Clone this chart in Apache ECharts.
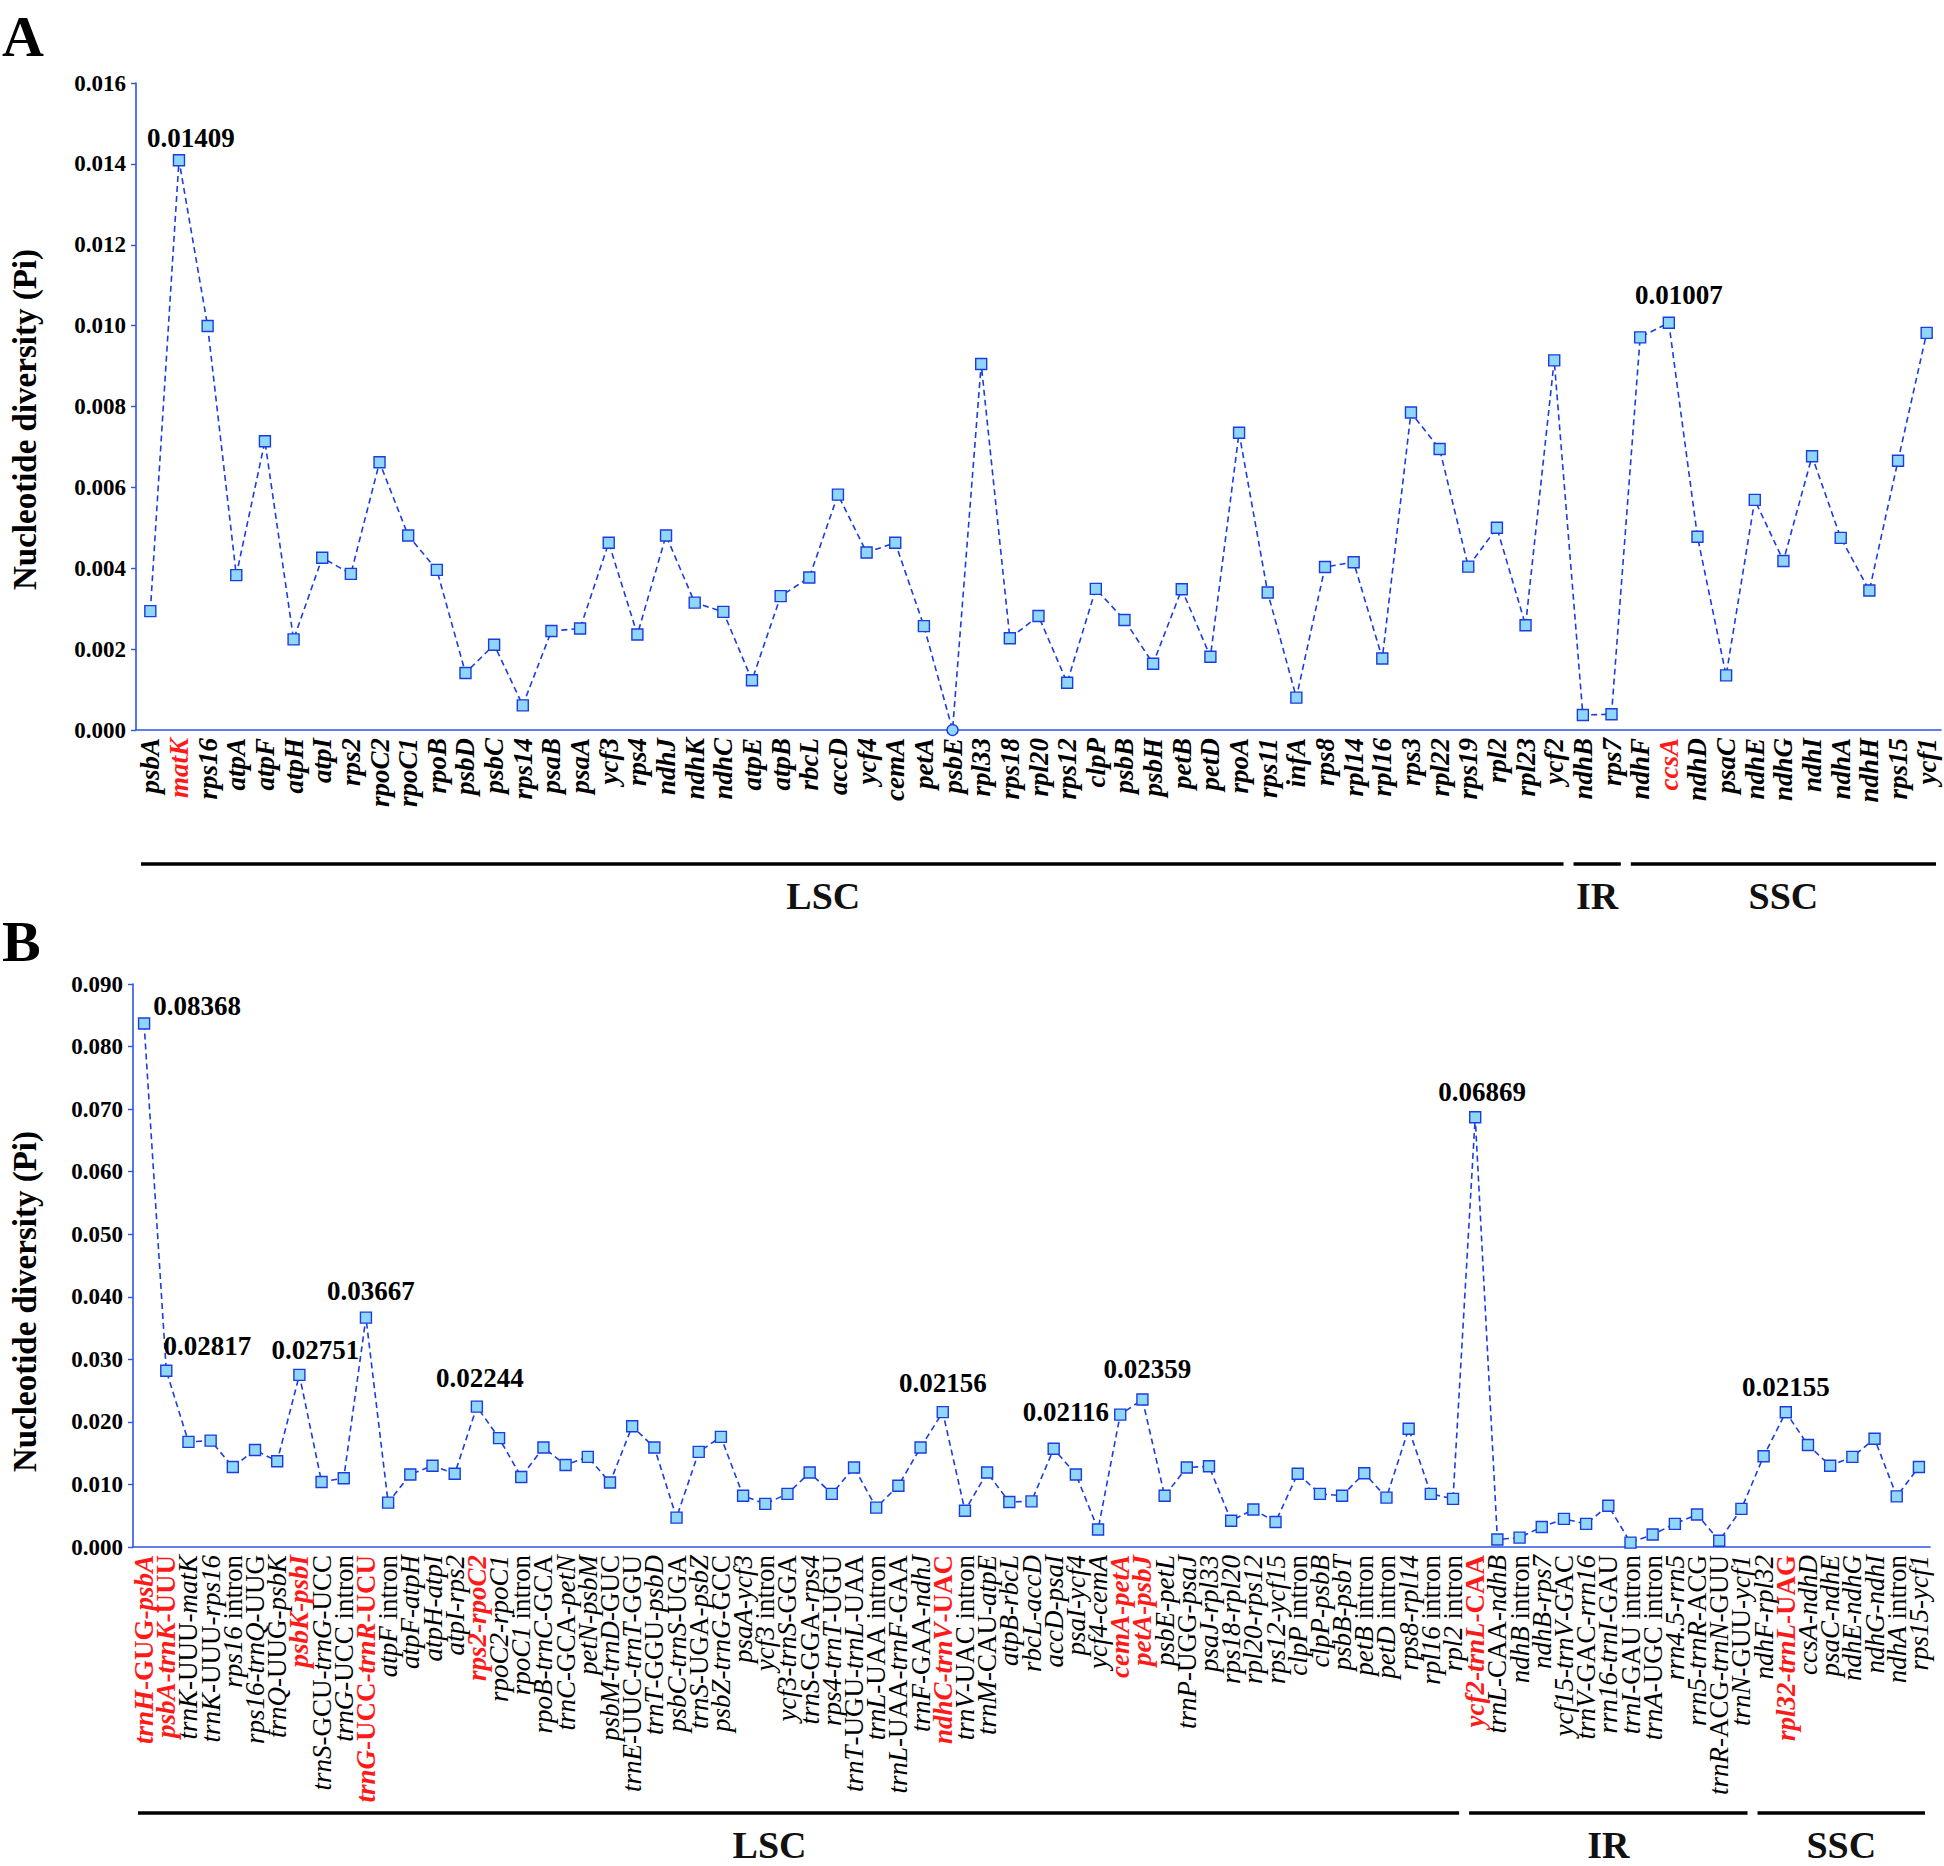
<!DOCTYPE html>
<html><head><meta charset="utf-8">
<script src="https://cdn.jsdelivr.net/npm/echarts/dist/echarts.min.js"></script>
<style>html,body{margin:0;padding:0;background:#fff}#c{width:1944px;height:1866px}</style>
</head><body><div id="c"></div>
<script>
// ---------- DATA ----------
const categoriesA = ['psbA','matK','rps16','atpA','atpF','atpH','atpI','rps2','rpoC2','rpoC1','rpoB','psbD','psbC','rps14','psaB','psaA','ycf3','rps4','ndhJ','ndhK','ndhC','atpE','atpB','rbcL','accD','ycf4','cemA','petA','psbE','rpl33','rps18','rpl20','rps12','clpP','psbB','psbH','petB','petD','rpoA','rps11','infA','rps8','rpl14','rpl16','rps3','rpl22','rps19','rpl2','rpl23','ycf2','ndhB','rps7','ndhF','ccsA','ndhD','psaC','ndhE','ndhG','ndhI','ndhA','ndhH','rps15','ycf1'];
const piA = [0.00294,0.01409,0.00999,0.00383,0.00714,0.00224,0.00426,0.00386,0.00662,0.00481,0.00396,0.00141,0.00211,0.00061,0.00245,0.00251,0.00463,0.00236,0.00481,0.00315,0.00292,0.00123,0.00331,0.00377,0.00582,0.00439,0.00463,0.00257,0.00000,0.00905,0.00227,0.00282,0.00117,0.00349,0.00272,0.00164,0.00348,0.00181,0.00735,0.00340,0.00080,0.00403,0.00415,0.00177,0.00785,0.00695,0.00404,0.00500,0.00259,0.00914,0.00037,0.00039,0.00971,0.01007,0.00478,0.00135,0.00569,0.00418,0.00677,0.00475,0.00345,0.00666,0.00982];
const highlightA = ['matK','ccsA'];
const labeledA = ['matK','ccsA'];
const yTicksA = [0,0.002,0.004,0.006,0.008,0.010,0.012,0.014,0.016];
const regionsA = [['LSC','psbA','ycf2'],['IR','ndhB','rps7'],['SSC','ndhF','ycf1']];

const categoriesB = ['trnH-GUG-psbA','psbA-trnK-UUU','trnK-UUU-matK','trnK-UUU-rps16','rps16 intron','rps16-trnQ-UUG','trnQ-UUG-psbK','psbK-psbI','trnS-GCU-trnG-UCC','trnG-UCC intron','trnG-UCC-trnR-UCU','atpF intron','atpF-atpH','atpH-atpI','atpI-rps2','rps2-rpoC2','rpoC2-rpoC1','rpoC1 intron','rpoB-trnC-GCA','trnC-GCA-petN','petN-psbM','psbM-trnD-GUC','trnE-UUC-trnT-GGU','trnT-GGU-psbD','psbC-trnS-UGA','trnS-UGA-psbZ','psbZ-trnG-GCC','psaA-ycf3','ycf3 intron','ycf3-trnS-GGA','trnS-GGA-rps4','rps4-trnT-UGU','trnT-UGU-trnL-UAA','trnL-UAA intron','trnL-UAA-trnF-GAA','trnF-GAA-ndhJ','ndhC-trnV-UAC','trnV-UAC intron','trnM-CAU-atpE','atpB-rbcL','rbcL-accD','accD-psaI','psaI-ycf4','ycf4-cemA','cemA-petA','petA-psbJ','psbE-petL','trnP-UGG-psaJ','psaJ-rpl33','rps18-rpl20','rpl20-rps12','rps12-ycf15','clpP intron','clpP-psbB','psbB-psbT','petB intron','petD intron','rps8-rpl14','rpl16 intron','rpl2 intron','ycf2-trnL-CAA','trnL-CAA-ndhB','ndhB intron','ndhB-rps7','ycf15-trnV-GAC','trnV-GAC-rrn16','rrn16-trnI-GAU','trnI-GAU intron','trnA-UGC intron','rrn4.5-rrn5','rrn5-trnR-ACG','trnR-ACG-trnN-GUU','trnN-GUU-ycf1','ndhF-rpl32','rpl32-trnL-UAG','ccsA-ndhD','psaC-ndhE','ndhE-ndhG','ndhG-ndhI','ndhA intron','rps15-ycf1'];
const piB = [0.08368,0.02817,0.0168,0.0170,0.0128,0.0155,0.0137,0.02751,0.0104,0.0110,0.03667,0.0071,0.0116,0.0130,0.0117,0.02244,0.0174,0.0112,0.0159,0.0131,0.0144,0.0103,0.0193,0.0159,0.0047,0.0152,0.0176,0.0082,0.0069,0.0085,0.0119,0.0085,0.0127,0.0063,0.0098,0.0159,0.02156,0.0058,0.0119,0.0072,0.0073,0.0157,0.0116,0.0028,0.02116,0.02359,0.0082,0.0127,0.0129,0.0042,0.0060,0.0040,0.0117,0.0085,0.0082,0.0118,0.0079,0.0189,0.0085,0.0077,0.06869,0.0012,0.0015,0.0032,0.0045,0.0037,0.0066,0.0007,0.0020,0.0037,0.0052,0.0010,0.0061,0.0145,0.02155,0.0163,0.0130,0.0144,0.0173,0.0081,0.0128];
const highlightB = ['trnH-GUG-psbA','psbA-trnK-UUU','psbK-psbI','trnG-UCC-trnR-UCU','rps2-rpoC2','ndhC-trnV-UAC','cemA-petA','petA-psbJ','ycf2-trnL-CAA','rpl32-trnL-UAG'];
const labeledB = ['trnH-GUG-psbA','psbA-trnK-UUU','psbK-psbI','trnG-UCC-trnR-UCU','rps2-rpoC2','ndhC-trnV-UAC','cemA-petA','petA-psbJ','ycf2-trnL-CAA','rpl32-trnL-UAG'];
const yTicksB = [0,0.010,0.020,0.030,0.040,0.050,0.060,0.070,0.080,0.090];
const regionsB = [['LSC','trnH-GUG-psbA','rpl2 intron'],['IR','ycf2-trnL-CAA','trnN-GUU-ycf1'],['SSC','ndhF-rpl32','rps15-ycf1']];

const yTitle = 'Nucleotide diversity (Pi)';

// ---------- STYLE ----------
const FONT = '"Liberation Serif","Times New Roman",serif';
const BLUE_AXIS = '#2b55e6';
const BLUE_LINE = '#1a3de0';
const FILL = '#8fd6f8';
const RED = '#ff1a1a';

const labelPlaceA = {
  'matK': {position:'top', offset:[12,2]},
  'ccsA': {position:'top', offset:[10,-3]}
};
const labelPlaceB = {
  'trnH-GUG-psbA': {position:'right', offset:[-2,-18]},
  'psbA-trnK-UUU': {position:'top', offset:[41,0]},
  'psbK-psbI': {position:'top', offset:[16,0]},
  'trnG-UCC-trnR-UCU': {position:'top', offset:[5,-2]},
  'rps2-rpoC2': {position:'top', offset:[3,-4]},
  'ndhC-trnV-UAC': {position:'top', offset:[0,-4]},
  'cemA-petA': {position:'left', offset:[0,-3]},
  'petA-psbJ': {position:'top', offset:[5,-6]},
  'ycf2-trnL-CAA': {position:'top', offset:[7,-1]},
  'rpl32-trnL-UAG': {position:'top', offset:[0,0]}
};
const regionTextShift = {LSC: -29, IR: 0, SSC: 0};

function buildData(cats, vals, labeled, place) {
  return vals.map((v, i) => {
    const d = {value: v};
    if (v === 0) d.symbol = 'circle';
    if (labeled.includes(cats[i])) {
      const p = place[cats[i]] || {position:'top', offset:[0,0]};
      d.label = {show: true, position: p.position, offset: p.offset, distance: 5,
        formatter: (x) => x.value.toFixed(5),
        fontFamily: FONT, fontSize: 27, fontWeight: 'bold', color: '#000'};
    }
    return d;
  });
}

function fmtB(value) {
  const red = highlightB.includes(value);
  return value.split(/([- ])/).filter(s => s !== '').map(p => {
    const roman = /^[ACGU]{3}$/.test(p) || p === 'intron' || p === '-' || p === ' ';
    return '{' + (red ? 'r' : 'k') + (roman ? 'n' : 'i') + '|' + p + '}';
  }).join('');
}

const FS_B = 27;
const richB = {
  ki: {fontFamily: FONT, fontSize: FS_B, fontStyle: 'italic', fontWeight: 'normal', color: '#000'},
  kn: {fontFamily: FONT, fontSize: FS_B, fontStyle: 'normal', fontWeight: 'normal', color: '#000'},
  ri: {fontFamily: FONT, fontSize: FS_B, fontStyle: 'italic', fontWeight: 'bold', color: RED},
  rn: {fontFamily: FONT, fontSize: FS_B, fontStyle: 'normal', fontWeight: 'bold', color: RED}
};

function yAxisCfg(gridIndex, ticks, digits, gap, shiftPad) {
  return {
    type: 'value', gridIndex: gridIndex,
    min: ticks[0], max: ticks[ticks.length - 1], interval: ticks[1] - ticks[0],
    name: yTitle, nameLocation: 'middle', nameGap: gap,
    nameTextStyle: {fontFamily: FONT, fontSize: 33, fontWeight: 'bold', color: '#000', padding: [0, shiftPad, 0, 0]},
    axisLine: {show: true, lineStyle: {color: BLUE_AXIS, width: 1.6}},
    axisTick: {show: true, inside: false, length: 5, lineStyle: {color: BLUE_AXIS, width: 1.4}},
    axisLabel: {formatter: (v) => v.toFixed(digits), fontFamily: FONT, fontSize: 23, fontWeight: 'bold', color: '#000', margin: 10},
    splitLine: {show: false}
  };
}

function seriesCfg(idx, cats, vals, labeled, place) {
  return {
    type: 'line', xAxisIndex: idx, yAxisIndex: idx,
    data: buildData(cats, vals, labeled, place),
    symbol: 'rect', symbolSize: 11, showAllSymbol: true,
    lineStyle: {color: BLUE_LINE, width: 1.6, type: [6, 4]},
    itemStyle: {color: FILL, borderColor: BLUE_LINE, borderWidth: 1.4},
    emphasis: {disabled: true},
    z: 3
  };
}

const chart = echarts.init(document.getElementById('c'), null, {renderer: 'svg'});
chart.setOption({
  animation: false,
  backgroundColor: '#fff',
  grid: [
    {left: 130, top: 83, width: 1811, height: 647},
    {left: 127, top: 984, width: 1803, height: 563}
  ],
  xAxis: [
    {type: 'category', gridIndex: 0, data: categoriesA, boundaryGap: true,
     axisLine: {lineStyle: {color: BLUE_AXIS, width: 1.6}},
     axisTick: {inside: true, length: 6, lineStyle: {color: BLUE_AXIS, width: 1.4}},
     axisLabel: {rotate: 90, interval: 0, margin: 8, fontFamily: FONT, fontSize: 27, fontWeight: 'bold', fontStyle: 'italic',
       color: (v) => highlightA.includes(v) ? RED : '#000'}},
    {type: 'category', gridIndex: 1, data: categoriesB, boundaryGap: true,
     axisLine: {lineStyle: {color: BLUE_AXIS, width: 1.6}},
     axisTick: {inside: true, length: 6, lineStyle: {color: BLUE_AXIS, width: 1.4}},
     axisLabel: {rotate: 90, interval: 0, margin: 8, formatter: fmtB, rich: richB}}
  ],
  yAxis: [yAxisCfg(0, yTicksA, 3, 95, 26), yAxisCfg(1, yTicksB, 3, 92, 72)],
  series: [
    seriesCfg(0, categoriesA, piA, labeledA, labelPlaceA),
    seriesCfg(1, categoriesB, piB, labeledB, labelPlaceB)
  ]
});

// region brackets under the axes, placed via the category axes
function regionGraphics(axisIdx, cats, regions, lineY, textY) {
  const p0 = chart.convertToPixel({xAxisIndex: axisIdx}, cats[0]);
  const p1 = chart.convertToPixel({xAxisIndex: axisIdx}, cats[cats.length - 1]);
  const band = (p1 - p0) / (cats.length - 1);
  const out = [];
  regions.forEach(([name, a, b]) => {
    const x1 = chart.convertToPixel({xAxisIndex: axisIdx}, a) - band / 2 + 5;
    const x2 = chart.convertToPixel({xAxisIndex: axisIdx}, b) + band / 2 - 5;
    out.push({type: 'line', shape: {x1: x1, y1: lineY, x2: x2, y2: lineY}, style: {stroke: '#000', lineWidth: 3.5}});
    out.push({type: 'text', x: (x1 + x2) / 2 + (regionTextShift[name] || 0), y: textY,
      style: {text: name, fontFamily: FONT, fontSize: 38, fontWeight: 'bold', fill: '#111', align: 'center', verticalAlign: 'middle'}});
  });
  return out;
}

const graphics = [
  {type: 'text', x: 2, y: 36, style: {text: 'A', fontFamily: FONT, fontSize: 58, fontWeight: 'bold', fill: '#000', align: 'left', verticalAlign: 'middle'}},
  {type: 'text', x: 2, y: 941, style: {text: 'B', fontFamily: FONT, fontSize: 58, fontWeight: 'bold', fill: '#000', align: 'left', verticalAlign: 'middle'}}
].concat(regionGraphics(0, categoriesA, regionsA, 864, 896))
 .concat(regionGraphics(1, categoriesB, regionsB, 1813, 1845));

chart.setOption({graphic: graphics});
</script>
</body></html>
